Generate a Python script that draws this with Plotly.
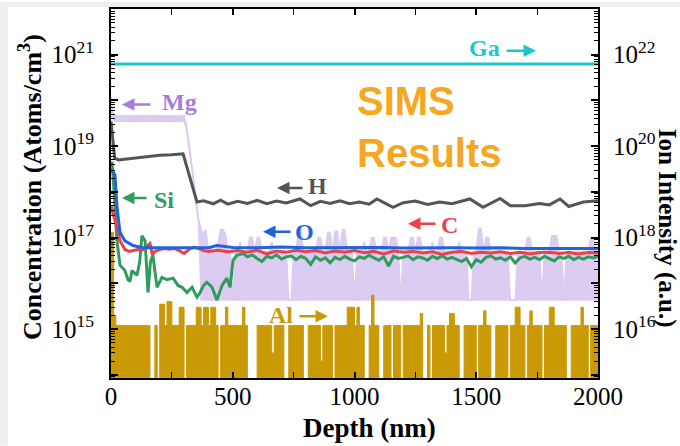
import plotly.graph_objects as go

# ---------------- data ----------------
depth_grid = list(range(0, 2001, 10))  # 10 nm sampling grid (nm)

ga_depth = [0, 500, 1000, 1500, 2000]
ga_vals = [6.3e21, 6.3e21, 6.3e21, 6.3e21, 6.3e21]  # right axis

mg_hi = [
    1.2e20, 5.0e19, 4.6e19, 4.6e19, 4.7e19, 4.6e19, 4.6e19, 4.5e19, 4.6e19, 4.7e19,
    4.6e19, 4.6e19, 4.6e19, 4.5e19, 4.6e19, 4.6e19, 4.7e19, 4.6e19, 4.6e19, 4.6e19,
    4.5e19, 4.6e19, 4.6e19, 4.7e19, 4.6e19, 4.6e19, 4.6e19, 4.5e19, 4.6e19, 4.6e19,
    4.6e19, 3.0e19, 1.2e19, 5.0e18, 1.8e18, 6.0e17, 2.5e17, 1.5e17, 1.2e17, 1.5e17,
    5e16, 6e16, 5e16, 5e16, 8e16, 1.5e17, 1.5e17, 1.2e17, 5e16, 5e16,
    4.3e15, 5e16, 5e16, 8e16, 5e16, 5e16, 5e16, 1e17, 1e17, 5e16,
    1e17, 1e17, 5e16, 5e16, 5e16, 5e16, 8e16, 5e16, 5e16, 5e16,
    5e16, 5e16, 5e16, 4.3e15, 4.3e15, 5e16, 5e16, 1.6e17, 1.6e17, 5e16,
    5e16, 5e16, 5e16, 5e16, 5e16, 1e17, 1e17, 5e16, 5e16, 1.3e17,
    1.3e17, 5e16, 1.4e17, 1.4e17, 5e16, 1.5e17, 1.5e17, 5e16, 5e16, 5e16,
    4.3e15, 5e16, 5e16, 5e16, 8e16, 5e16, 5e16, 1e17, 1e17, 5e16,
    5e16, 5e16, 1e17, 1e17, 5e16, 1e17, 1e17, 1e17, 5e16, 4.3e15,
    5e16, 5e16, 5e16, 1e17, 1e17, 5e16, 1e17, 1e17, 5e16, 5e16,
    5e16, 5e16, 8e16, 5e16, 5e16, 1e17, 1e17, 5e16, 5e16, 5e16,
    5e16, 5e16, 5e16, 8e16, 5e16, 5e16, 5e16, 4.3e15, 4.3e15, 5e16,
    5e16, 1.6e17, 1.6e17, 5e16, 1e17, 1e17, 5e16, 5e16, 5e16, 5e16,
    5e16, 5e16, 5e16, 5e16, 4.3e15, 4.3e15, 4.3e15, 5e16, 5e16, 5e16,
    5e16, 1e17, 1e17, 5e16, 5e16, 5e16, 5e16, 4.3e15, 5e16, 5e16,
    5e16, 1.1e17, 1.1e17, 1.1e17, 5e16, 5e16, 4.3e15, 5e16, 5e16, 5e16,
    5e16, 5e16, 5e16, 5e16, 5e16, 5e16, 5e16, 1e17, 1e17, 5e16,
    5e16,
]
mg_lo_depth = [0, 10, 20, 300, 310, 320, 330, 340, 350, 360, 370, 2000]
mg_lo = [5e19, 3.6e19, 3.5e19, 3.5e19, 2.3e19, 1e19, 4e18, 1.5e18, 5e17, 2e17, 4.3e15, 4.3e15]

al_vals = [  # right axis
    1.3e18, 2e16, 1.2e16, 1.2e16, 1.2e16, 1.2e16, 1.2e16, 1.2e16, 1.2e16, 1.2e16,
    1.2e16, 1.2e16, 1.2e16, 1.2e16, 1.2e16, 1.2e16, 5e14, 5e14, 1.2e16, 5e14,
    3.5e16, 3.5e16, 1.2e16, 4e16, 4e16, 1.2e16, 1.2e16, 1.2e16, 3e16, 3e16,
    5e14, 1.2e16, 1.2e16, 1.2e16, 1.2e16, 3e16, 3e16, 1.2e16, 3e16, 3e16,
    1.2e16, 3e16, 3e16, 1.2e16, 5e14, 1.2e16, 1.2e16, 3e16, 1.2e16, 1.2e16,
    1.2e16, 1.2e16, 1.2e16, 1.2e16, 3e16, 1.2e16, 5e14, 5e14, 5e14, 5e14,
    1.2e16, 1.2e16, 1.2e16, 1.2e16, 1.2e16, 1.2e16, 3e15, 1.2e16, 1.2e16, 1.2e16,
    1.2e16, 5e14, 5e14, 1.2e16, 1.2e16, 1.2e16, 1.2e16, 1.2e16, 1.2e16, 5e14,
    5e14, 1.2e16, 1.2e16, 1.2e16, 1.2e16, 1.2e16, 2e15, 1.2e16, 1.2e16, 1.2e16,
    1.2e16, 5e14, 1.2e16, 1.2e16, 1.2e16, 1.2e16, 1.2e16, 3e16, 3e16, 3e16,
    1.2e16, 3e16, 1.2e16, 1.2e16, 5e14, 5e14, 1.2e16, 5.5e16, 1.2e16, 1.2e16,
    5e14, 5e14, 1.2e16, 1.2e16, 1.2e16, 5e14, 1.2e16, 1.2e16, 1.2e16, 5e14,
    1.2e16, 1.2e16, 1.2e16, 1.2e16, 1.2e16, 1.2e16, 1.2e16, 2.2e16, 5e14, 5e14,
    1.2e16, 5e14, 1.2e16, 1.2e16, 1.2e16, 1.2e16, 1.2e16, 3e15, 1.2e16, 2.2e16,
    2.2e16, 1.2e16, 1.2e16, 5e14, 5e14, 1.2e16, 1.2e16, 1.2e16, 1.2e16, 1.2e16,
    5e14, 1.2e16, 1.2e16, 2.5e16, 1.2e16, 1.2e16, 5e14, 5e14, 1.2e16, 1.2e16,
    1.2e16, 1.2e16, 1.2e16, 5e14, 1.2e16, 1.2e16, 3e16, 3e16, 1.2e16, 1.2e16,
    5e14, 1.2e16, 2.5e16, 1.2e16, 1.2e16, 1.2e16, 1.2e16, 5e14, 1.2e16, 1.2e16,
    3e16, 3e16, 1.2e16, 1.2e16, 1.2e16, 1.2e16, 1.2e16, 5e14, 5e14, 1.2e16,
    1.2e16, 1.2e16, 1.2e16, 3e16, 1.2e16, 1.2e16, 5e14, 1.2e16, 1.2e16, 1.2e16,
    1.2e16,
]

h_depth = [0, 8, 15, 30, 60, 100, 150, 200, 250, 290, 296, 353, 380, 420, 450, 480, 520,
           560, 600, 640, 680, 720, 776, 820, 860, 900, 940, 980, 1020, 1060, 1092,
           1158, 1200, 1250, 1300, 1350, 1400, 1474, 1528, 1598, 1640, 1700, 1760,
           1800, 1844, 1880, 1940, 2000]
h_vals = [3.5e19, 1.2e19, 5.5e18, 5.0e18, 5.2e18, 5.6e18, 6.0e18, 6.3e18, 6.5e18, 6.8e18,
          6.8e18, 6.0e17, 6.4e17, 5.5e17, 6.6e17, 5.4e17, 6.2e17,
          5.6e17, 6.5e17, 5.5e17, 6.3e17, 5.7e17, 7.0e17, 5.0e17, 6.2e17, 5.6e17, 6.4e17,
          5.5e17, 6.0e17, 5.4e17, 7.0e17,
          4.6e17, 5.8e17, 6.3e17, 5.3e17, 6.0e17, 5.5e17, 7.0e17, 4.6e17, 7.2e17, 5.0e17,
          5.0e17, 5.6e17, 5.2e17, 7.0e17, 4.8e17, 6.0e17, 6.4e17]

si_depth = [0, 4, 8, 15, 25, 37, 57, 70, 78, 86, 107, 118, 127, 140, 152, 162, 172, 189,
            209, 230, 255, 275, 292, 312, 333, 353, 366, 380, 394, 415, 435, 456, 476,
            489, 501, 517, 542,
            560, 580, 600, 620, 640, 660, 680, 700, 720, 740, 760, 780, 800, 820, 840,
            860, 880, 900, 920, 940, 960, 980, 1000, 1020, 1040, 1060, 1080, 1100, 1120,
            1140, 1160, 1180, 1200, 1220, 1240, 1260, 1280, 1300, 1320, 1340, 1360, 1380,
            1400, 1420, 1440, 1460, 1480, 1500, 1520, 1540, 1560, 1580, 1600, 1620, 1640,
            1660, 1680, 1700, 1720, 1740, 1760, 1780, 1800, 1820, 1840, 1860, 1880, 1900,
            1920, 1940, 1960, 1980, 2000]
si_vals = [4.3e18, 4.3e18, 2.5e18, 5e17, 8e16, 2.5e16, 1.9e16, 1.2e16, 1.1e16, 1.9e16,
           1.5e16, 3e16, 1.1e17, 8.5e16, 6.3e15, 3e16, 4.1e16, 8.2e15,
           1.35e16, 1.2e16, 1.3e16, 9e15, 8.2e15, 6.3e15, 8.2e15, 5e15, 6.3e15, 9e15,
           1.05e16, 8.2e15, 4.3e15, 9e15, 1.3e16, 8.2e15, 3.2e16, 4.1e16, 4.5e16,
           3.8e16, 4.2e16, 3.5e16, 3.0e16, 3.9e16, 3.6e16, 4.2e16, 3.4e16, 3.8e16, 4.0e16,
           3.3e16, 3.9e16, 3.5e16, 2.6e16, 3.8e16, 3.2e16, 3.6e16, 2.8e16, 3.7e16, 3.3e16,
           3.9e16, 3.4e16, 3.1e16, 3.8e16, 3.5e16, 4.1e16, 3.6e16, 3.2e16, 3.8e16, 2.4e16,
           3.9e16, 3.5e16, 3.7e16, 4.0e16, 3.3e16, 3.8e16, 3.6e16, 3.2e16, 3.9e16, 3.5e16,
           4.0e16, 3.4e16, 3.7e16, 3.3e16, 3.0e16, 3.5e16, 2.3e16, 3.3e16, 2.9e16, 3.7e16,
           4.0e16, 3.4e16, 3.6e16, 3.2e16, 3.8e16, 2.8e16, 3.6e16, 3.9e16, 3.4e16, 3.7e16,
           3.3e16, 3.9e16, 3.5e16, 3.1e16, 3.8e16, 3.5e16, 3.9e16, 3.3e16, 3.7e16, 3.4e16,
           3.8e16, 3.6e16, 3.9e16]

c_depth = [0, 10, 20, 37, 57, 75, 90, 110, 130, 150, 160, 170, 180, 200, 220, 240, 260,
           280, 300, 320, 340, 360, 380, 400, 440, 480, 520, 560, 600, 640, 680, 720, 760,
           800, 840, 880, 920, 960, 1000, 1040, 1080, 1120, 1160, 1200, 1240, 1280, 1320,
           1360, 1400, 1440, 1480, 1520, 1560, 1600, 1640, 1680, 1720, 1760, 1800, 1840,
           1880, 1920, 1960, 2000]
c_vals = [5e17, 3.3e17, 2e17, 8.5e16, 5.5e16, 5.0e16, 5.2e16, 5.5e16, 5.4e16, 6.5e16,
          7.4e16, 4.2e16, 5.0e16, 5.5e16, 5.8e16, 5.6e16, 5.8e16, 5.2e16, 4.5e16, 5.5e16,
          6.2e16, 5.8e16, 5.2e16, 5.0e16, 5.3e16, 4.9e16, 5.2e16, 4.8e16, 5.3e16, 4.4e16,
          5.1e16, 4.8e16, 5.3e16, 4.9e16, 5.2e16, 4.6e16, 5.1e16, 4.8e16, 5.2e16, 4.7e16,
          5.0e16, 4.4e16, 5.1e16, 4.8e16, 5.0e16, 4.6e16, 4.9e16, 4.3e16, 4.8e16, 5.0e16,
          4.5e16, 4.8e16, 4.6e16, 4.9e16, 4.5e16, 4.8e16, 4.4e16, 4.7e16, 4.8e16, 4.5e16,
          4.7e16, 4.4e16, 4.7e16, 4.6e16]

o_depth = [0, 16, 25, 37, 57, 90, 130, 200, 300, 400, 435, 500, 600, 700, 800, 900, 1000,
           1100, 1200, 1300, 1400, 1500, 1600, 1700, 1800, 1900, 2000]
o_vals = [3e18, 2.4e18, 4.5e17, 1.3e17, 8.5e16, 6.7e16, 6.0e16, 6.0e16, 6.1e16, 6.0e16,
          6.7e16, 6.1e16, 6.0e16, 6.2e16, 6.0e16, 6.1e16, 6.0e16, 6.1e16, 5.9e16, 6.0e16,
          6.0e16, 5.9e16, 6.0e16, 5.8e16, 5.9e16, 5.8e16, 5.8e16]

x_ticks = [0, 500, 1000, 1500, 2000]
left_decades = [14, 15, 16, 17, 18, 19, 20, 21, 22]
left_labeled = [15, 17, 19, 21]
right_decades = [15, 16, 17, 18, 19, 20, 21, 22, 23]
right_labeled = [16, 18, 20, 22]

# ---------------- styling ----------------
W, H = 680, 446
L, R, T, B = 111, 598, 7, 378
SERIF = "Liberation Serif"

C_GA = "#1cc7c7"
C_MG_LINE = "#dcccf1"
C_MG_TXT = "#a77bd9"
C_AL = "#c99a06"
C_H = "#555555"
C_SI = "#2f9c5c"
C_C = "#e8434a"
C_O = "#1f63dd"


def px(xp):
    return (xp - L) / (R - L)


def py(yp):
    return (B - yp) / (B - T)


fig = go.Figure()

# Mg (two boundary traces, area between them filled)
fig.add_trace(go.Scatter(x=mg_lo_depth, y=mg_lo, mode="lines",
                         line=dict(color=C_MG_LINE, width=1.5), hoverinfo="skip"))
fig.add_trace(go.Scatter(x=depth_grid, y=mg_hi, mode="lines", fill="tonexty",
                         fillcolor=C_MG_LINE, line=dict(color=C_MG_LINE, width=1.5)))
# Al (right axis, filled)
fig.add_trace(go.Scatter(x=depth_grid, y=al_vals, mode="lines", yaxis="y2",
                         fill="tozeroy", fillcolor=C_AL, line=dict(color=C_AL, width=1, shape="hv")))
# Ga (right axis)
fig.add_trace(go.Scatter(x=ga_depth, y=ga_vals, mode="lines", yaxis="y2",
                         line=dict(color=C_GA, width=3)))
fig.add_trace(go.Scatter(x=h_depth, y=h_vals, mode="lines", line=dict(color=C_H, width=3)))
fig.add_trace(go.Scatter(x=si_depth, y=si_vals, mode="lines", line=dict(color=C_SI, width=3)))
fig.add_trace(go.Scatter(x=c_depth, y=c_vals, mode="lines", line=dict(color=C_C, width=3)))
fig.add_trace(go.Scatter(x=o_depth, y=o_vals, mode="lines", line=dict(color=C_O, width=3)))


def sup_label(d):
    return "10<sup>%d</sup>" % d


left_minor = [k * 10.0 ** d for d in range(13, 23) for k in range(2, 10)]
right_minor = [k * 10.0 ** d for d in range(14, 24) for k in range(2, 10)]

fig.update_layout(
    width=W, height=H,
    margin=dict(l=L, r=W - R, t=T, b=H - B),
    paper_bgcolor="white", plot_bgcolor="white",
    showlegend=False,
    font=dict(family=SERIF, color="black", size=25),
    xaxis=dict(range=[0, 2000], tickvals=x_ticks, ticks="inside", ticklen=6, tickwidth=1.5,
               tickcolor="black", showline=True, linecolor="black", linewidth=2,
               mirror="allticks", showgrid=False, zeroline=False,
               tickfont=dict(family=SERIF, size=25), ticklabelstandoff=-5,
               minor=dict(tickvals=[250, 750, 1250, 1750], ticks="inside", ticklen=4,
                          tickwidth=1.2, tickcolor="black", showgrid=False)),
    yaxis=dict(type="log", range=[13.93, 22.0],
               tickvals=[10.0 ** d for d in left_decades],
               ticktext=[sup_label(d) if d in left_labeled else "" for d in left_decades],
               ticks="inside", ticklen=7, tickwidth=1.5, tickcolor="black",
               showline=True, linecolor="black", linewidth=2, showgrid=False, zeroline=False,
               tickfont=dict(family=SERIF, size=25), ticklabelstandoff=10,
               minor=dict(tickvals=left_minor, ticks="inside", ticklen=4, tickwidth=1.2,
                          tickcolor="black", showgrid=False)),
    yaxis2=dict(type="log", range=[14.93, 23.0], overlaying="y", side="right",
                tickvals=[10.0 ** d for d in right_decades],
                ticktext=[sup_label(d) if d in right_labeled else "" for d in right_decades],
                ticks="inside", ticklen=7, tickwidth=1.5, tickcolor="black",
                showline=True, linecolor="black", linewidth=2, showgrid=False, zeroline=False,
                tickfont=dict(family=SERIF, size=25), ticklabelstandoff=8,
                minor=dict(tickvals=right_minor, ticks="inside", ticklen=4, tickwidth=1.2,
                           tickcolor="black", showgrid=False)),
)

# light grey strips along the top and left of the page
fig.add_shape(type="rect", xref="paper", yref="paper", x0=px(0), x1=px(8), y0=py(H), y1=py(0),
              fillcolor="#efefef", line=dict(width=0), layer="below")
fig.add_shape(type="rect", xref="paper", yref="paper", x0=px(0), x1=px(W), y0=py(5), y1=py(0),
              fillcolor="#efefef", line=dict(width=0), layer="below")

ann = []
# axis titles
ann.append(dict(text="<b>Concentration (Atoms/cm<sup>3</sup>)</b>", x=px(30), y=py(186),
                xref="paper", yref="paper", showarrow=False, textangle=-90,
                font=dict(family=SERIF, size=26, color="black"), xanchor="center", yanchor="middle"))
ann.append(dict(text="<b>Ion Intensity (a.u.)</b>", x=px(667), y=py(227),
                xref="paper", yref="paper", showarrow=False, textangle=90,
                font=dict(family=SERIF, size=25, color="black"), xanchor="center", yanchor="middle"))
ann.append(dict(text="<b>Depth (nm)</b>", x=px(369), y=py(428),
                xref="paper", yref="paper", showarrow=False,
                font=dict(family=SERIF, size=27, color="black"), xanchor="center", yanchor="middle"))
# SIMS Results
for txt, yc in [("SIMS", 99), ("Results", 152)]:
    ann.append(dict(text="<b>%s</b>" % txt, x=px(355), y=py(yc), xref="paper", yref="paper",
                    showarrow=False, xanchor="left", yanchor="middle",
                    font=dict(family="Liberation Sans", size=40, color="#f5a623")))

# series labels with arrows: (text, text center x, y, color, arrow head x, arrow tail x, arrow y)
labels = [
    ("Ga", 484, 46, C_GA, 536, 505, 49),
    ("Mg", 179, 101, C_MG_TXT, 122, 152, 103),
    ("H", 317, 185, C_H, 277, 304, 187),
    ("Si", 164, 199, C_SI, 122, 148, 197),
    ("O", 304, 231, C_O, 263, 292, 231),
    ("C", 449, 224, C_C, 408, 437, 223),
    ("Al", 281, 315, C_AL, 328, 298, 316),
]
for txt, tx, ty, col, hx, tlx, ay in labels:
    ann.append(dict(text="<b>%s</b>" % txt, x=px(tx), y=py(ty), xref="paper", yref="paper",
                    showarrow=False, xanchor="center", yanchor="middle",
                    font=dict(family=SERIF, size=24, color=col)))
    ann.append(dict(text="", x=px(hx), y=py(ay), xref="paper", yref="paper",
                    showarrow=True, ax=tlx - hx, ay=0, arrowhead=2, arrowsize=1,
                    arrowwidth=2.5, arrowcolor=col, standoff=0, startstandoff=0))

fig.update_layout(annotations=ann)

fig.write_html("out.html", config={"displayModeBar": False},
               post_script="document.body.style.margin='0';document.body.style.overflow='hidden';")
